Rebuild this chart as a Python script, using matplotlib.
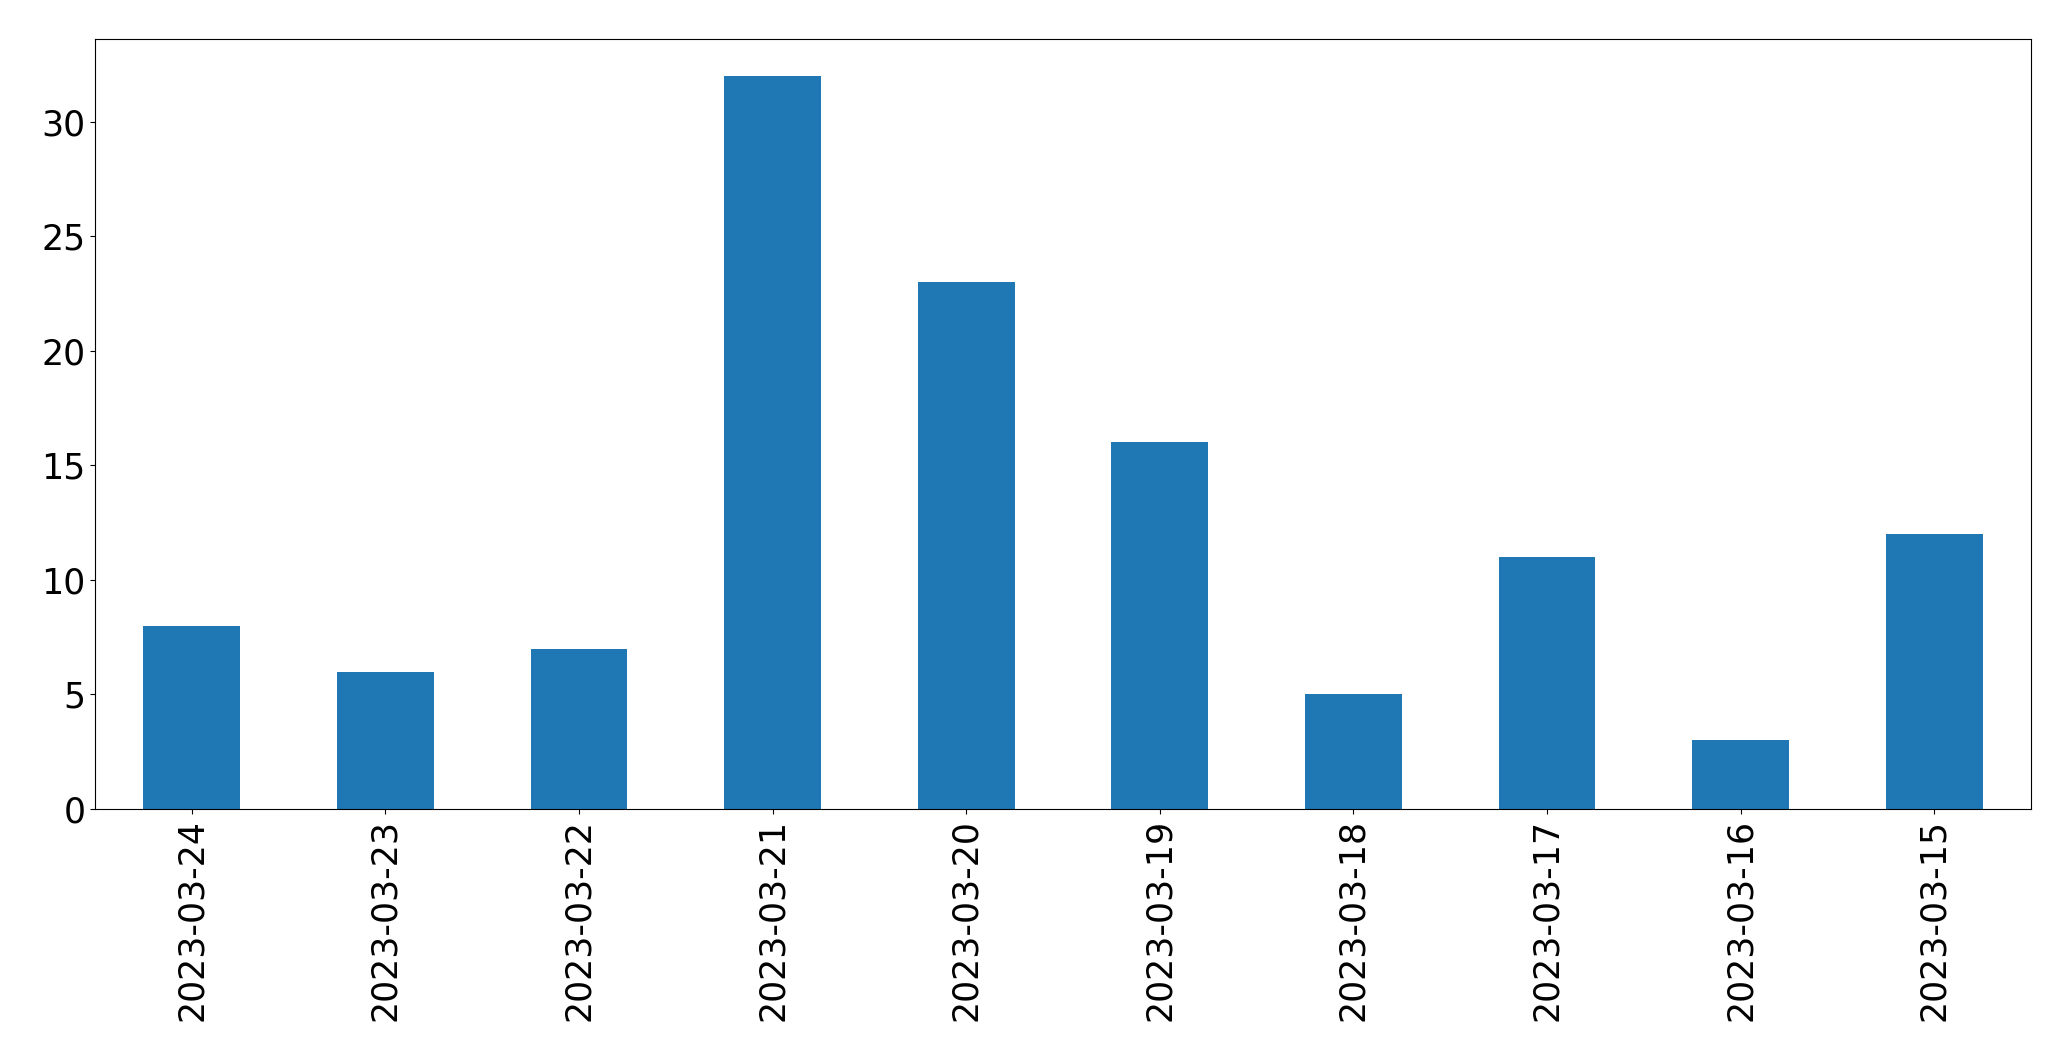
import matplotlib
matplotlib.use("Agg")
import matplotlib.pyplot as plt
import pandas as pd

dates = ["2023-03-24", "2023-03-23", "2023-03-22", "2023-03-21", "2023-03-20",
         "2023-03-19", "2023-03-18", "2023-03-17", "2023-03-16", "2023-03-15"]
counts = [8, 6, 7, 32, 23, 16, 5, 11, 3, 12]

fig = plt.figure(figsize=(20.71, 10.61), dpi=100)
ax = fig.add_axes([95/2071, 1 - 809/1061, (2031 - 95)/2071, (809 - 39)/1061])
s = pd.Series(counts, index=dates)
s.plot(kind="bar", ax=ax, color="#1f77b4", fontsize=25)
ax.tick_params(labelsize=25)
fig.savefig("out.png", dpi=100)
